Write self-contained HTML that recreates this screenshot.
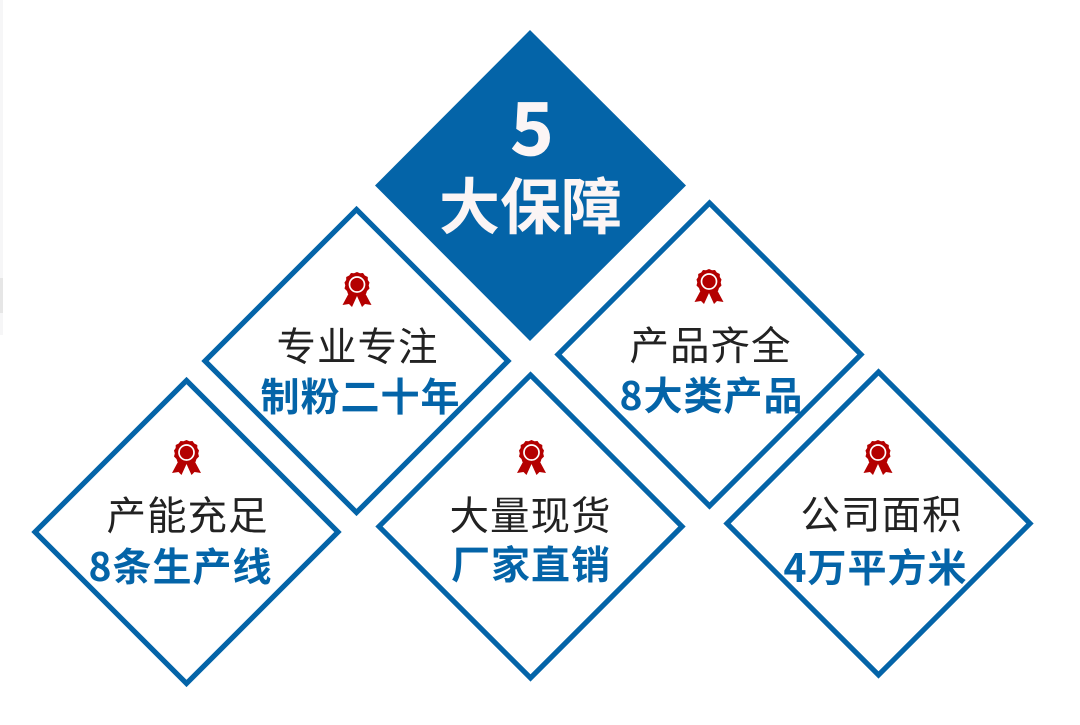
<!DOCTYPE html>
<html><head><meta charset="utf-8"><style>
html,body{margin:0;padding:0;background:#fff}
svg{display:block}
text{font-family:"Noto Sans CJK SC","Liberation Sans",sans-serif;text-anchor:middle}
.a{font-size:39.500px;fill:#222;font-weight:400;letter-spacing:1px}
.b{font-size:39px;fill:#0464a8;font-weight:700;letter-spacing:1px}
</style></head><body>
<svg width="1080" height="725" viewBox="0 0 1080 725" xmlns="http://www.w3.org/2000/svg">
<defs>
<g id="r">
<path d="M-7,6 L-14.500,20 L-8,19 L-5,22 L0,11 L5,22 L8,19 L14.500,20 L7,6 Z" fill="#b40000"/>
<path d="M0,-13 L3,-11.800 L6,-12 L7.800,-9.500 L10.800,-8 L10.800,-5 L12.500,-2.500 L11.700,0.500 L12.500,3.500 L10,6 L9,9 L6,9.500 L3.500,12 L0,11 L-3.500,12 L-6,9.500 L-9,9 L-10,6 L-12.500,3.500 L-11.700,0.500 L-12.500,-2.500 L-10.800,-5 L-10.800,-8 L-7.800,-9.500 L-6,-12 L-3,-11.800 Z" fill="#b40000"/>
<circle r="7.500" cy="-0.500" fill="#b40000" stroke="#fff" stroke-width="1.700"/>
</g>
<path id="d" d="M0,-151.500 L151.500,0 L0,151.500 L-151.500,0 Z" fill="#fff" stroke="#0464a8" stroke-width="5.200"/>
</defs>
<rect width="1080" height="725" fill="#fff"/>
<rect x="0" y="0" width="3" height="335" fill="#f6f6f7"/>
<rect x="0" y="278" width="3" height="35" fill="#e6e6e6"/>
<path d="M530,30 L686,185.500 L530,341 L375,185.500 Z" fill="#0464a8"/>
<text x="532" y="155" style="font-size:73px;font-weight:700;fill:#fbf5f5;stroke:#fbf5f5;stroke-width:.8px">5</text>
<text x="530.500" y="228.500" style="font-size:61px;font-weight:700;fill:#fbf5f5;letter-spacing:0">大保障</text>

<use href="#d" x="356.500" y="361"/>
<use href="#r" x="357" y="285"/>
<text class="a" x="357.500" y="361">专业专注</text>
<text class="b" x="360.500" y="411">制粉二十年</text>

<use href="#d" x="709.500" y="354.500"/>
<use href="#r" x="709" y="282"/>
<text class="a" x="710.500" y="360">产品齐全</text>
<text class="b" x="711.500" y="410">8大类产品</text>

<use href="#d" x="186.500" y="532"/>
<use href="#r" x="186.500" y="453"/>
<text class="a" x="187.500" y="530">产能充足</text>
<text class="b" x="180.500" y="581">8条生产线</text>

<use href="#d" x="530.500" y="526.500"/>
<use href="#r" x="531.500" y="453"/>
<text class="a" x="530.500" y="530">大量现货</text>
<text class="b" x="531" y="579">厂家直销</text>

<use href="#d" x="878.500" y="523.500"/>
<use href="#r" x="878" y="453"/>
<text class="a" x="881.500" y="529">公司面积</text>
<text class="b" x="875.500" y="582">4万平方米</text>
</svg>
</body></html>
